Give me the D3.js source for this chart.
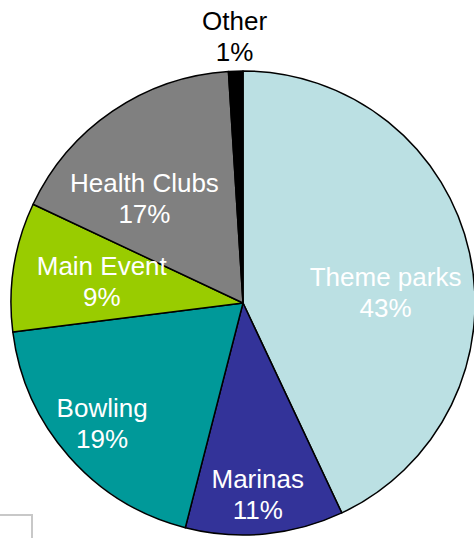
<!DOCTYPE html>
<html lang="en">
<head>
    <meta charset="UTF-8">
    <title>Revenue mix pie</title>
    <script src="https://d3js.org/d3.v7.min.js"></script>
    <style>
        body{
            margin: 0;
            background: #fff;
        }
        .slice_label{
            font-family: "Liberation Sans", Arial, sans-serif;
            font-size: 26px;
        }
    </style>
</head>
<body>
<svg width="474" height="538"></svg>

<script>

    // slices, clockwise from 12 o'clock
    const categories = ["Theme parks", "Marinas", "Bowling", "Main Event", "Health Clubs", "Other"];
    const shares = [43, 11, 19, 9, 17, 1];
    const colors = ["#bbe0e3", "#333399", "#009999", "#99cc00", "#808080", "#000000"];

    // where Excel put each label: angle shift (deg) from the slice middle, distance from centre
    const labelPlace = {
        "Theme parks": {shift: 8, dist: 143},
        "Marinas": {shift: 1, dist: 192},
        "Bowling": {shift: 1, dist: 185},
        "Main Event": {shift: 0, dist: 143},
        "Health Clubs": {shift: -9, dist: 144},
        "Other": {shift: 0, dist: 267}
    };

    const cx = 243, cy = 303, r = 232;

    let svg = d3.select("svg");

    // little frame corner left bottom
    svg.append("rect")
        .attr("x", -10)
        .attr("y", 515)
        .attr("width", 42)
        .attr("height", 40)
        .attr("fill", "none")
        .attr("stroke", "#c8c8c8")
        .attr("stroke-width", 2);

    const pie = d3.pie().sort(null).value(d => d.v);
    const arcs = pie(categories.map((c, i) => ({name: c, v: shares[i], color: colors[i]})));

    const arc = d3.arc().innerRadius(0).outerRadius(r);

    let g = svg.append("g").attr("transform", `translate(${cx},${cy})`);

    g.selectAll("path")
        .data(arcs)
        .enter()
        .append("path")
        .attr("d", arc)
        .attr("fill", d => d.data.color)
        .attr("stroke", "#000")
        .attr("stroke-width", 1.5)
        .attr("stroke-linejoin", "round");

    let labels = g.selectAll("text")
        .data(arcs)
        .enter()
        .append("text")
        .attr("class", "slice_label")
        .attr("text-anchor", "middle")
        .attr("fill", d => d.data.name === "Other" ? "#000" : "#fff")
        .attr("transform", d => {
            let p = labelPlace[d.data.name];
            let a = (d.startAngle + d.endAngle) / 2 + p.shift * Math.PI / 180;
            return `translate(${p.dist * Math.sin(a)},${-p.dist * Math.cos(a)})`;
        });

    labels.append("tspan")
        .attr("x", 0)
        .attr("y", -6)
        .text(d => d.data.name);

    labels.append("tspan")
        .attr("x", 0)
        .attr("y", 25)
        .text(d => d.data.v + "%");

</script>
</body>
</html>
